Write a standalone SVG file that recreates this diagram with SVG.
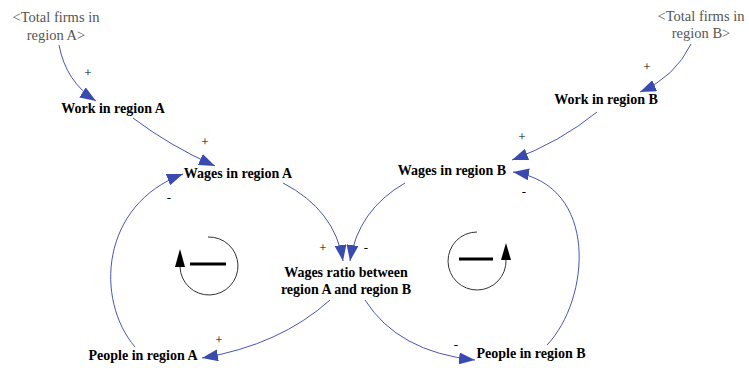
<svg xmlns="http://www.w3.org/2000/svg" width="749" height="368" viewBox="0 0 749 368">
<style>
.lbl{font-family:'Liberation Serif',serif;font-size:14px;font-weight:bold;fill:#000;text-anchor:middle}
.shadow{font-family:'Liberation Serif',serif;font-size:14.5px;fill:#555;text-anchor:middle}
.sign{font-family:'Liberation Serif',serif;font-size:13px;fill:#000;text-anchor:middle}
.link{fill:none;stroke:#4a55b5;stroke-width:1;marker-end:url(#ah)}
.loop{fill:none;stroke:#333;stroke-width:1}
.bar{stroke:#000;stroke-width:3}
</style>
<defs>
<marker id="ah" markerUnits="userSpaceOnUse" markerWidth="18" markerHeight="12" refX="16" refY="6" orient="auto">
<path d="M0,0 L16,6 L0,12 z" fill="#3a4bb0"/>
</marker>
</defs>
<rect width="749" height="368" fill="#fff"/>
<g id="connectors">
<path class="link" d="M59,45 Q66,82 96,101"/>
<path class="link" d="M133,118 Q170,146 215,166"/>
<path class="link" d="M135,347 C95,300 100,205 183,174"/>
<path class="link" d="M283,183 Q335,210 343,261"/>
<path class="link" d="M405,183 Q358,210 350,261"/>
<path class="link" d="M597,112 Q560,142 512,160"/>
<path class="link" d="M691,44 Q675,77 640,92"/>
<path class="link" d="M547,345 C590,300 600,185 513,172"/>
<path class="link" d="M330,300 Q280,345 202,358"/>
<path class="link" d="M365,300 Q398,352 475,360"/>
<text class="sign" x="88" y="77">+</text>
<text class="sign" x="205" y="146">+</text>
<text class="sign" x="169" y="202">-</text>
<text class="sign" x="323" y="252">+</text>
<text class="sign" x="366" y="252">-</text>
<text class="sign" x="219" y="344">+</text>
<text class="sign" x="456" y="349">-</text>
<text class="sign" x="524" y="196">-</text>
<text class="sign" x="522" y="141">+</text>
<text class="sign" x="647" y="71">+</text>
</g>
<g id="total-firms-a"><text class="shadow" x="56" y="22">&lt;Total firms in</text><text class="shadow" x="56" y="40">region A&gt;</text></g>
<g id="total-firms-b"><text class="shadow" x="701" y="21">&lt;Total firms in</text><text class="shadow" x="701" y="38">region B&gt;</text></g>
<g id="work-a"><text class="lbl" x="113" y="113">Work in region A</text></g>
<g id="work-b"><text class="lbl" x="606" y="104">Work in region B</text></g>
<g id="wages-a"><text class="lbl" x="238" y="178">Wages in region A</text></g>
<g id="wages-b"><text class="lbl" x="452" y="175">Wages in region B</text></g>
<g id="wages-ratio"><text class="lbl" x="346" y="277">Wages ratio between</text><text class="lbl" x="346" y="294">region A and region B</text></g>
<g id="people-a"><text class="lbl" x="143" y="360">People in region A</text></g>
<g id="people-b"><text class="lbl" x="531" y="358">People in region B</text></g>
<g id="loop-left">
<path class="loop" d="M208,237 A29,29 0 1,1 180,267"/>
<path d="M180,249 L175,267 L185,267 z" fill="#000"/>
<line class="bar" x1="190" y1="264" x2="226" y2="264"/>
</g>
<g id="loop-right">
<path class="loop" d="M477,232 A29,29 0 1,0 506,260"/>
<path d="M506,243 L501,260 L511,260 z" fill="#000"/>
<line class="bar" x1="459" y1="259" x2="493" y2="259"/>
</g>
</svg>
